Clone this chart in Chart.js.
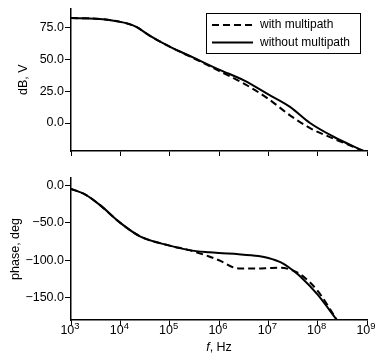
<!DOCTYPE html>
<html>
<head>
<meta charset="utf-8">
<script src="https://cdn.jsdelivr.net/npm/chart.js@4/dist/chart.umd.min.js"></script>
<style>
  html, body { margin: 0; padding: 0; background: #fff; }
  #contenedor { position: relative; width: 375px; height: 353px; }
  #magnitud { position: absolute; left: 0; top: 0; }
  #fase { position: absolute; left: 0; top: 165px; }
</style>
</head>
<body>
<div id="contenedor">
  <canvas id="magnitud" width="375" height="165"></canvas>
  <canvas id="fase" width="375" height="188"></canvas>
</div>
<script>
// DATOS
const decadas = [1e3, 1e4, 1e5, 1e6, 1e7, 1e8, 1e9];
const exponentes = ['3', '4', '5', '6', '7', '8', '9'];
const ticksMagnitud = [0, 25, 50, 75];
const ticksFase = [0, -50, -100, -150];
const series = ['with multipath', 'without multipath'];

const magFreq = [1e3, 3.2e3, 1e4, 2e4, 4e4, 1e5, 3.2e5, 1e6, 3.2e6, 1e7, 2.75e7, 7e7, 2.1e8, 8.5e8];
const magCon = [82.5, 82, 79.5, 76, 68.5, 60, 50.5, 41, 31, 19, 6, -4, -12.3, -22];
const magSin = [82.5, 82, 79.5, 76, 68.5, 60, 51, 42, 33.5, 22.5, 12.7, 0, -10.8, -22];

const faseFreq = [1e3, 2e3, 4e3, 1e4, 2.5e4, 1e5, 2.5e5, 6.3e5, 1e6, 2.5e6, 6.3e6, 1e7, 1.8e7, 3.2e7, 4.5e7, 1e8, 2.45e8];
const faseCon = [-4.5, -12.5, -27, -50, -68, -80.5, -86.5, -95, -100, -111, -111, -110.5, -110, -114, -119, -141, -180];
const faseSin = [-4.5, -12.5, -27, -50, -68, -80.5, -86.5, -89.5, -90.5, -92, -94.5, -97, -103, -114, -122, -146, -180];

const FUENTE = '"Liberation Sans", Arial, sans-serif';
Chart.defaults.font.family = FUENTE;
Chart.defaults.font.size = 12;
Chart.defaults.color = '#000';

function puntos(xs, ys) {
  return xs.map((x, i) => ({ x: x, y: ys[i] }));
}

function serie(nombre, xs, ys, punteada) {
  return {
    label: nombre,
    data: puntos(xs, ys),
    borderColor: '#000',
    borderWidth: 2,
    borderDash: punteada ? [7, 4] : [],
    pointRadius: 0,
    cubicInterpolationMode: 'monotone',
    fill: false,
  };
}

function ejeX(alto) {
  return {
    type: 'logarithmic',
    min: 1e3,
    max: 1e9,
    afterBuildTicks: (s) => { s.ticks = decadas.map((v) => ({ value: v })); },
    afterFit: (s) => { s.height = alto; },
    ticks: { display: false },
    grid: { drawOnChartArea: false, tickLength: 5, tickColor: '#000', tickWidth: 1 },
    border: { color: '#000', width: 1.5 },
  };
}

function ejeY(min, max, valores, titulo, pad) {
  return {
    min: min,
    max: max,
    afterBuildTicks: (s) => { s.ticks = valores.map((v) => ({ value: v })); },
    afterFit: (s) => { s.width = 71; },
    ticks: {
      padding: 1,
      color: '#000',
      font: { size: 12.5 },
      callback: (v) => (v < 0 ? '\u2212' : '') + Math.abs(v).toFixed(1),
    },
    grid: { drawOnChartArea: false, tickLength: 6, tickColor: '#000', tickWidth: 1 },
    border: { color: '#000', width: 1.5 },
    title: { display: true, text: titulo, color: '#000', font: { size: 12.5 }, padding: { top: pad, bottom: 0 } },
  };
}

//LEYENDA
const leyenda = {
  id: 'leyenda',
  afterDraw(chart) {
    const c = chart.ctx;
    c.save();
    c.fillStyle = '#fff';
    c.fillRect(206, 13, 155, 41);
    c.strokeStyle = '#000';
    c.lineWidth = 1;
    c.strokeRect(206.5, 13.5, 154, 40);
    c.lineWidth = 2;
    [25, 42.5].forEach((y, i) => {
      c.setLineDash(i === 0 ? [7, 4] : []);
      c.beginPath();
      c.moveTo(212, y);
      c.lineTo(253, y);
      c.stroke();
    });
    c.setLineDash([]);
    c.fillStyle = '#000';
    c.font = '12px ' + FUENTE;
    c.textBaseline = 'middle';
    c.fillText(series[0], 260, 25);
    c.fillText(series[1], 260, 42.5);
    c.restore();
  },
};

//ETIQUETAS 10^n
const etiquetasX = {
  id: 'etiquetasX',
  afterDraw(chart) {
    const c = chart.ctx;
    const s = chart.scales.x;
    c.save();
    c.fillStyle = '#000';
    c.textBaseline = 'alphabetic';
    decadas.forEach((v, i) => {
      const px = s.getPixelForValue(v);
      c.font = '12.5px ' + FUENTE;
      const w1 = c.measureText('10').width;
      c.font = '9.5px ' + FUENTE;
      const w2 = c.measureText(exponentes[i]).width;
      const x0 = px - (w1 + w2) / 2 - 1;
      c.font = '12.5px ' + FUENTE;
      c.fillText('10', x0, s.top + 14);
      c.font = '9.5px ' + FUENTE;
      c.fillText(exponentes[i], x0 + w1, s.top + 9);
    });
    const cx = (chart.chartArea.left + chart.chartArea.right) / 2;
    c.font = 'italic 12.5px ' + FUENTE;
    const wf = c.measureText('f').width;
    c.font = '12.5px ' + FUENTE;
    const wr = c.measureText(', Hz').width;
    const xi = cx - (wf + wr) / 2;
    c.font = 'italic 12.5px ' + FUENTE;
    c.fillText('f', xi, s.top + 31);
    c.font = '12.5px ' + FUENTE;
    c.fillText(', Hz', xi + wf, s.top + 31);
    c.restore();
  },
};

//CREAR CHARTS
function crearChart(id, datasets, ejeYConf, altoX, padTop, plugins) {
  return new Chart(document.getElementById(id), {
    type: 'line',
    data: { datasets: datasets },
    options: {
      responsive: false,
      animation: false,
      layout: { padding: { top: padTop, right: 8, left: 0, bottom: 0 } },
      plugins: { legend: { display: false }, tooltip: { enabled: false } },
      scales: { x: ejeX(altoX), y: ejeYConf },
    },
    plugins: plugins,
  });
}

crearChart('magnitud', [
  serie(series[0], magFreq, magCon, true),
  serie(series[1], magFreq, magSin, false),
], ejeY(-22, 90, ticksMagnitud, 'dB, V', 16), 14, 8, [leyenda]);

crearChart('fase', [
  serie(series[0], faseFreq, faseCon, true),
  serie(series[1], faseFreq, faseSin, false),
], ejeY(-180, 10, ticksFase, 'phase, deg', 8), 33, 13, [etiquetasX]);
</script>
</body>
</html>
